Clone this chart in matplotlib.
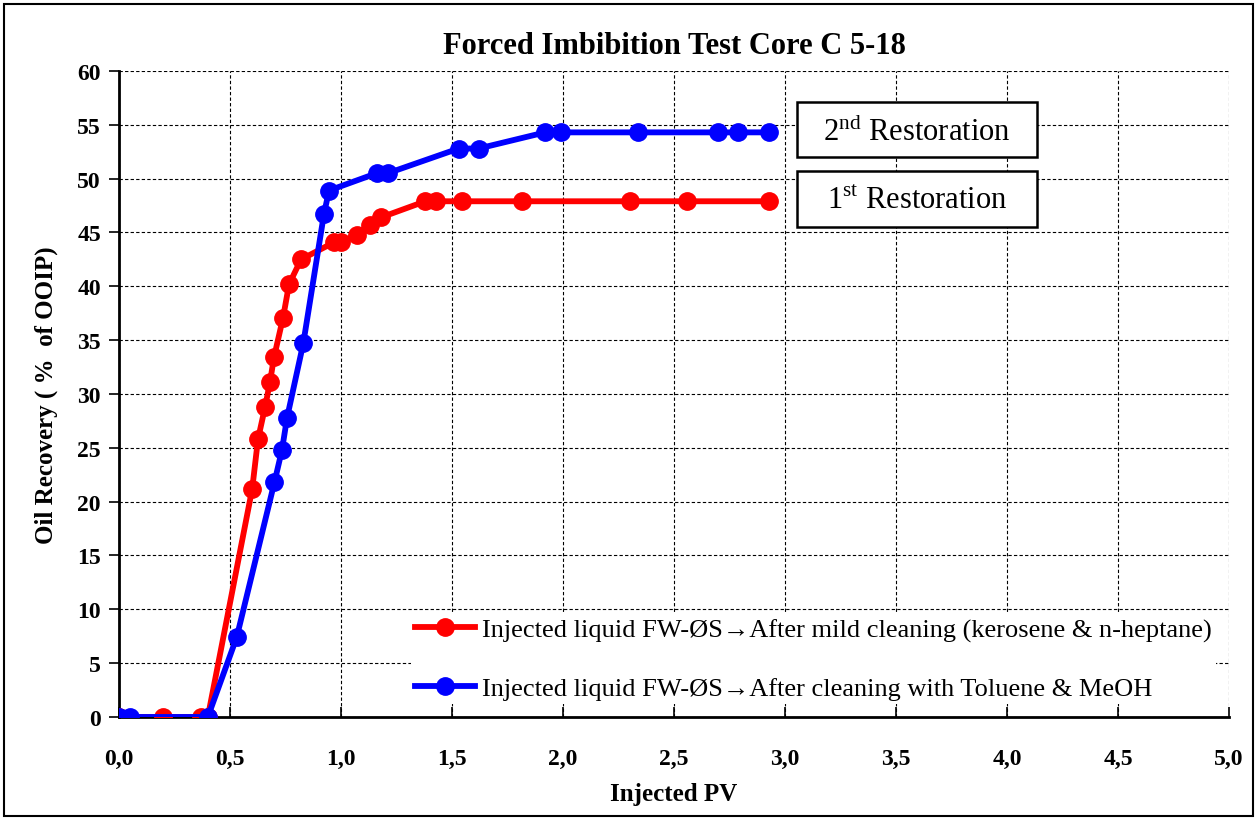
import matplotlib
matplotlib.use('Agg')
import matplotlib.pyplot as plt
import matplotlib.ticker as mt
from matplotlib.patches import Rectangle

plt.rcParams['font.family'] = ['Liberation Serif', 'DejaVu Serif']
plt.rcParams['mathtext.fontset'] = 'custom'
plt.rcParams['mathtext.rm'] = 'Liberation Serif'

# datos
pv_1 = [0.0, 0.20, 0.37, 0.40, 0.60, 0.626, 0.658, 0.68, 0.698, 0.739, 0.766, 0.82,
        0.97, 1.0, 1.07, 1.13, 1.18, 1.38, 1.43, 1.545, 1.815, 2.30, 2.56, 2.93]
rec_1 = [0, 0, 0, 0, 21.2, 25.8, 28.8, 31.1, 33.4, 37.1, 40.2, 42.5,
         44.1, 44.1, 44.8, 45.7, 46.4, 47.9, 47.9, 47.9, 47.9, 47.9, 47.9, 47.9]

pv_2 = [0.0, 0.05, 0.40, 0.53, 0.70, 0.734, 0.757, 0.83, 0.923, 0.946, 1.16, 1.21,
        1.53, 1.62, 1.92, 1.99, 2.34, 2.70, 2.79, 2.93]
rec_2 = [0, 0, 0, 7.4, 21.8, 24.8, 27.8, 34.7, 46.7, 48.9, 50.5, 50.5,
         52.8, 52.8, 54.3, 54.3, 54.3, 54.3, 54.3, 54.3]

lab_1 = 'Injected liquid FW-ØS→After mild cleaning (kerosene & n-heptane)'
lab_2 = 'Injected liquid FW-ØS→After cleaning with Toluene & MeOH'

fig = plt.figure(figsize=(12.57, 8.20), dpi=100)
ax = fig.add_axes([0.0947, 0.1244, 0.883, 0.7878])

ax.plot(pv_1, rec_1, color='red', lw=4.2, marker='o', ms=12.5, label=lab_1, zorder=3)
ax.plot(pv_2, rec_2, color='blue', lw=4.2, marker='o', ms=12.5, label=lab_2, zorder=4)

ax.set_xlim(0, 5)
ax.set_ylim(0, 60)
ax.xaxis.set_major_locator(mt.MultipleLocator(0.5))
ax.yaxis.set_major_locator(mt.MultipleLocator(5))
ax.xaxis.set_major_formatter(mt.FuncFormatter(lambda v, p: ('%.1f' % v).replace('.', ',')))
ax.grid(True, color='black', ls=(0, (3, 2)), lw=0.8)
for s in ['top', 'right']:
    ax.spines[s].set_visible(False)
for s in ['left', 'bottom']:
    ax.spines[s].set_linewidth(2.0)
ax.tick_params(axis='y', direction='out', length=7, width=1.2, labelsize=17, pad=6)
ax.tick_params(axis='x', direction='in', length=7, width=1.2, labelsize=17, pad=22)
for t in ax.get_xticklabels() + ax.get_yticklabels():
    t.set_fontweight('bold')

ax.set_title('Forced Imbibition Test Core C 5-18', fontsize=22, fontweight='bold', pad=13)
ax.set_xlabel('Injected PV', fontsize=18, fontweight='bold', labelpad=10)
ax.set_ylabel('Oil Recovery ( %  of OOIP)', fontsize=18, fontweight='bold', labelpad=14)

leg = ax.legend(loc='lower right', bbox_to_anchor=(1.0, 0.0), fontsize=19,
                frameon=True, fancybox=False, handlelength=2.3, handletextpad=0.25,
                labelspacing=1.3, borderpad=0.15, framealpha=1)
leg.get_frame().set_edgecolor('white')
leg.get_frame().set_linewidth(0)

# cuadros de texto
for yb, txt in [(0.807, r'2$^{\rm nd}$ Restoration'), (0.722, r'1$^{\rm st}$ Restoration')]:
    fig.patches.append(Rectangle((0.634, yb), 0.191, 0.068, transform=fig.transFigure,
                                 facecolor='white', edgecolor='black', lw=1.8, zorder=5))
    fig.text(0.634 + 0.0955, yb + 0.032, txt, fontsize=22, ha='center', va='center', zorder=6)

# borde exterior
fig.patches.append(Rectangle((0.003, 0.004), 0.994, 0.99, transform=fig.transFigure,
                             facecolor='none', edgecolor='black', lw=1.5))

fig.savefig('out.png', dpi=100)
